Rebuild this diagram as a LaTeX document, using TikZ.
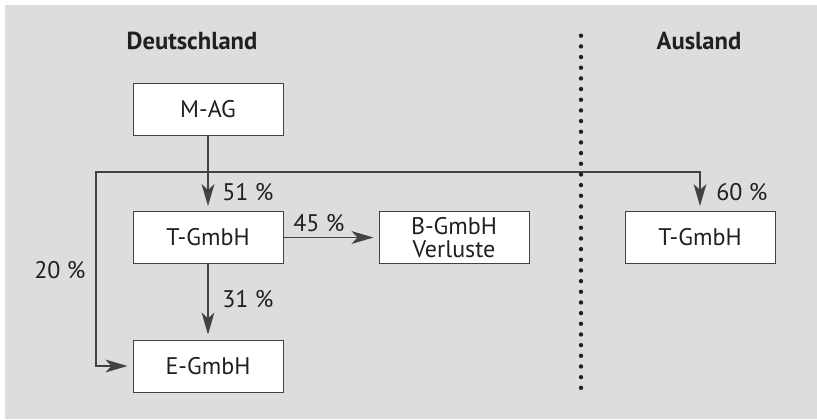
\documentclass[tikz,border=0pt]{standalone}
\usepackage{fontspec}
\setmainfont{PT Sans}
\usetikzlibrary{arrows.meta}
\definecolor{bggray}{HTML}{DCDDDF}
\definecolor{ink}{HTML}{231F20}
\begin{document}
\begin{tikzpicture}[x=0.5pt,y=-0.5pt,
  every node/.style={font=\fontsize{12}{11.2}\selectfont, text=ink},
  company/.style={draw=ink!85, line width=0.5pt, fill=white, minimum width=75pt, minimum height=26pt, inner sep=0pt, align=center},
  title/.style={font=\fontsize{12.3}{13}\selectfont\bfseries},
  pct/.style={inner sep=0pt, anchor=west},
  conn/.style={draw=ink!85, line width=0.6pt},
  arr/.style={conn, -{Stealth[length=11pt, width=6.4pt, inset=3pt]}, shorten >=2.5pt}
]
\useasboundingbox (0,0) rectangle (817,419);
\fill[bggray] (5,5) rectangle (817,419);

\node[title] (tde) at (192,41) {Deutschland};
\node[title] (tau) at (699,41) {Ausland};

\node[company] (mag) at (208,109) {M-AG};
\node[company] (tg) at (208,237.5) {T-GmbH};
\node[company] (eg) at (208,366) {E-GmbH};
\node[company] (bg) at (454,237.5) {B-GmbH\\Verluste};
\node[company] (tga) at (700,237.5) {T-GmbH};

\coordinate (j) at (208,172);
\coordinate (lc) at (96,172);

\draw[arr] (mag.south) -- (tg.north);
\draw[arr] (j) -| (tga.north);
\draw[arr] (j) -- (lc) |- (eg.west);
\draw[arr] (tg.east) -- (bg.west);
\draw[arr] (tg.south) -- (eg.north);

\node[pct] (p51) at (222,192) {51 \%};
\node[pct] (p60) at (716,192.5) {60 \%};
\node[pct] (p45) at (293,223) {45 \%};
\node[pct] (p31) at (222,299) {31 \%};
\node[pct] (p20) at (34,270.5) {20 \%};

\foreach \i in {0,...,33}
  \fill[ink] (581,35.7+\i*10.67) circle (1.1pt);
\end{tikzpicture}
\end{document}
